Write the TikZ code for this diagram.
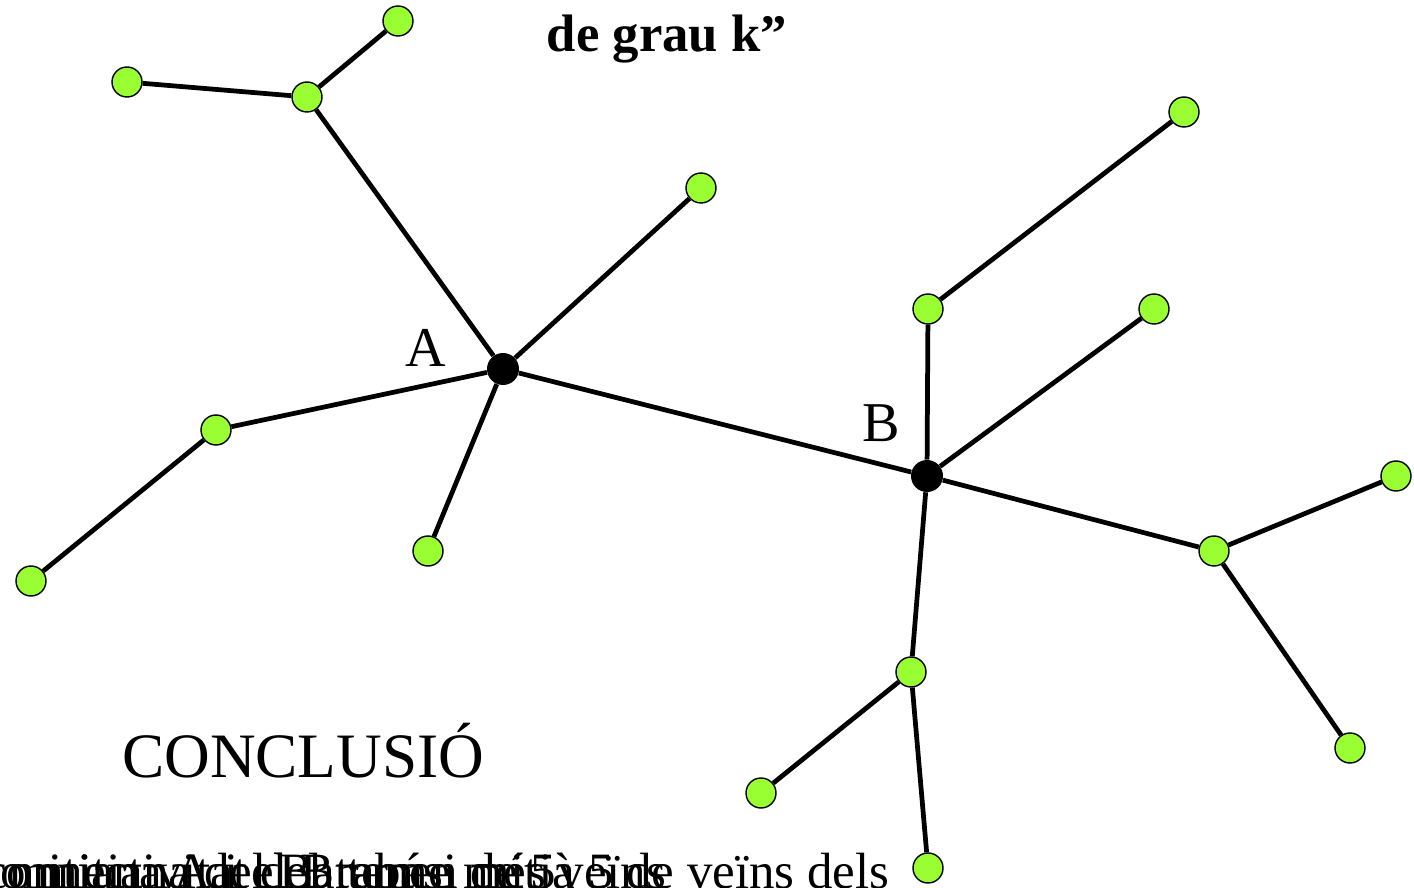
\documentclass[tikz,border=0pt]{standalone}
\usepackage{fontspec}
\setmainfont{Liberation Serif}
\definecolor{leafGreen}{RGB}{153,255,51}
\begin{document}
\begin{tikzpicture}[x=0.02cm, y=-0.02cm,
    leafStyle/.style={circle, draw, fill=leafGreen, line width=0.8pt, inner sep=0pt, minimum size=0.6cm},
    hubStyle/.style={circle, fill=black, inner sep=0pt, minimum size=0.64cm},
    edgeStyle/.style={line width=2.7pt},
    labelStyle/.style={font=\fontsize{32}{36}\selectfont, anchor=base},
    textStyle/.style={font=\fontsize{29}{33}\selectfont, anchor=base west}]
    \useasboundingbox (0,0) rectangle (1414,888);

    \node[font=\fontsize{30}{34}\selectfont\bfseries, anchor=base] (title) at (667,52) {de grau k”};

    \node[hubStyle] (A) at (503,369) {};
    \node[hubStyle] (B) at (927,476) {};
    \node[labelStyle] (A_lbl) at (426,367) {A};
    \node[labelStyle] (B_lbl) at (881,442) {B};

    \node[leafStyle] (a_1) at (398, 21) {};
    \node[leafStyle] (a_2) at (127, 82) {};
    \node[leafStyle] (a_3) at (307, 97) {};
    \node[leafStyle] (a_4) at (701,188) {};
    \node[leafStyle] (a_5) at (216,430) {};
    \node[leafStyle] (a_6) at ( 31,581) {};
    \node[leafStyle] (a_7) at (428,551) {};

    \node[leafStyle] (b_1) at (1184,112) {};
    \node[leafStyle] (b_2) at ( 928,309) {};
    \node[leafStyle] (b_3) at (1154,309) {};
    \node[leafStyle] (b_4) at (1396,476) {};
    \node[leafStyle] (b_5) at (1214,551) {};
    \node[leafStyle] (b_6) at ( 911,672) {};
    \node[leafStyle] (b_7) at ( 761,793) {};
    \node[leafStyle] (b_8) at (1350,748) {};
    \node[leafStyle] (b_9) at ( 928,868) {};

    \draw[edgeStyle] (a_3) -- (a_1);
    \draw[edgeStyle] (a_3) -- (a_2);
    \draw[edgeStyle] (a_3) -- (A);
    \draw[edgeStyle] (A) -- (a_4);
    \draw[edgeStyle] (A) -- (a_5);
    \draw[edgeStyle] (a_5) -- (a_6);
    \draw[edgeStyle] (A) -- (a_7);

    \draw[edgeStyle] (A) -- (B);

    \draw[edgeStyle] (B) -- (b_2);
    \draw[edgeStyle] (b_2) -- (b_1);
    \draw[edgeStyle] (B) -- (b_3);
    \draw[edgeStyle] (B) -- (b_5);
    \draw[edgeStyle] (b_5) -- (b_4);
    \draw[edgeStyle] (b_5) -- (b_8);
    \draw[edgeStyle] (B) -- (b_6);
    \draw[edgeStyle] (b_6) -- (b_7);
    \draw[edgeStyle] (b_6) -- (b_9);

    \node[font=\fontsize{36}{40}\selectfont, anchor=base west] (concl) at (116,777) {CONCLUSIÓ};

    % lines of the paragraph all set on one baseline
    \node[textStyle] (line_1) at (3,888) {mitjana A i el B tenen mitjà 5 de veïns dels};
    \node[textStyle] (line_2) at (-22,888) {connectivitat del terme més veïns};
    \node[textStyle] (line_3) at (-6,888) {o mitjana del Barabási de 5};
\end{tikzpicture}
\end{document}
